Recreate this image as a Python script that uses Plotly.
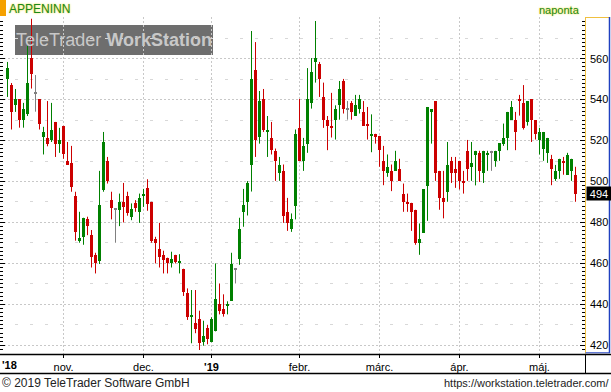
import plotly.graph_objects as go

# ---------------- data ----------------
opens = [550.2, 547.0, 537.6, 540.2, 530.2, 533.2, 560.3, 543.1, 540.2, 521.5,
         521.3, 520.2, 529.1, 518.5, 527.2, 510.1, 509.1, 493.0, 471.1, 473.0,
         481.8, 474.0, 464.2, 461.3, 495.8, 510.1, 491.1, 486.8, 486.3, 490.1,
         493.0, 482.8, 489.6, 485.2, 493.0, 496.9, 490.1, 472.0, 466.8, 464.2,
         462.8, 460.0, 464.2, 460.5, 457.4, 445.7, 434.3, 431.1, 433.0, 421.5,
         428.5, 421.5, 426.8, 440.2, 437.9, 439.5, 441.8, 457.6, 462.3, 485.2,
         490.1, 508.3, 554.5, 521.5, 540.3, 524.2, 521.3, 515.0, 504.2, 505.2,
         485.2, 477.0, 488.1, 526.2, 510.1, 518.5, 538.4, 558.4, 557.4, 541.3,
         530.2, 527.2, 530.2, 537.6, 549.1, 535.4, 538.4, 532.2, 535.4, 534.0,
         528.1, 522.4, 523.3, 522.3, 510.1, 504.2, 505.2, 505.2, 506.2, 494.1,
         490.1, 489.6, 486.2, 470.1, 475.0, 497.9, 534.1, 539.3, 505.2, 492.0,
         495.0, 510.1, 506.2, 510.1, 500.3, 515.0, 507.2, 513.0, 514.0, 504.2,
         513.0, 514.6, 510.1, 515.0, 518.5, 521.3, 530.2, 529.9, 540.3, 538.4,
         529.3, 540.3, 529.9, 520.5, 516.1, 514.0, 511.1, 501.3, 505.2, 510.1,
         503.3, 505.2, 503.3]
highs = [558.4, 548.1, 545.2, 540.2, 538.4, 566.2, 579.5, 552.0, 540.2, 526.7,
         539.3, 538.4, 529.1, 526.2, 527.2, 519.3, 517.4, 495.0, 485.2, 482.3,
         482.8, 476.3, 465.2, 505.2, 524.2, 512.0, 495.0, 486.8, 494.1, 499.3,
         495.0, 489.3, 490.9, 494.1, 496.4, 501.1, 490.1, 473.0, 479.8, 466.2,
         462.8, 465.7, 464.2, 464.5, 457.4, 447.8, 447.0, 447.0, 436.9, 432.0,
         430.0, 433.7, 460.0, 450.2, 444.9, 441.5, 465.2, 457.6, 482.3, 496.4,
         500.2, 573.5, 568.1, 544.2, 545.2, 532.0, 529.1, 516.1, 512.0, 508.3,
         492.0, 484.4, 525.4, 540.3, 521.3, 555.4, 560.3, 578.4, 558.4, 548.3,
         532.0, 543.3, 537.2, 549.1, 550.1, 539.3, 539.3, 542.3, 542.3, 539.3,
         536.4, 532.8, 523.3, 522.3, 517.4, 513.2, 508.3, 515.0, 511.1, 499.0,
         494.1, 489.6, 486.2, 479.5, 496.1, 536.4, 535.4, 539.3, 505.2, 505.2,
         519.3, 512.0, 512.0, 510.1, 505.2, 520.3, 519.3, 515.0, 515.0, 515.0,
         515.0, 515.0, 515.0, 518.7, 528.3, 534.0, 539.3, 534.0, 542.3, 547.1,
         539.3, 540.3, 529.9, 526.2, 524.2, 521.3, 513.0, 508.1, 511.1, 512.0,
         514.0, 511.1, 507.2]
lows = [541.3, 525.4, 534.0, 526.3, 526.3, 532.0, 545.4, 534.1, 525.4, 513.2,
        517.2, 519.3, 512.0, 514.0, 511.1, 508.3, 495.0, 471.1, 470.1, 469.1,
        473.8, 458.0, 455.1, 459.7, 495.0, 499.0, 481.5, 470.1, 478.2, 480.0,
        483.3, 481.1, 485.2, 479.8, 487.6, 485.7, 470.1, 460.0, 458.0, 455.1,
        455.1, 458.0, 460.0, 455.1, 444.1, 432.4, 421.0, 425.9, 417.7, 419.8,
        420.5, 421.5, 426.8, 435.1, 434.0, 435.1, 441.8, 450.2, 459.3, 477.9,
        483.4, 495.1, 512.0, 518.5, 524.2, 512.0, 513.2, 500.3, 500.3, 479.8,
        475.9, 475.4, 481.5, 510.1, 505.2, 514.0, 535.6, 548.3, 541.3, 526.2,
        515.3, 521.5, 520.5, 530.2, 533.2, 530.2, 530.2, 532.2, 533.2, 527.3,
        520.5, 514.3, 518.5, 507.2, 498.2, 502.3, 495.3, 505.2, 500.3, 485.2,
        485.2, 475.9, 469.1, 464.2, 475.0, 480.8, 518.5, 500.3, 486.2, 482.0,
        490.1, 499.3, 496.9, 496.1, 494.1, 500.3, 500.3, 498.1, 499.8, 499.3,
        505.2, 505.2, 507.2, 510.1, 517.4, 515.3, 530.2, 515.3, 532.2, 525.4,
        527.3, 519.3, 520.5, 513.2, 510.1, 509.1, 498.2, 500.3, 501.3, 503.3,
        503.3, 500.3, 490.1]
closes = [555.4, 534.0, 540.2, 530.2, 535.3, 548.1, 552.4, 543.1, 528.3, 524.2,
          518.5, 525.0, 518.5, 520.3, 513.2, 508.3, 497.4, 475.1, 472.2, 482.3,
          478.2, 463.3, 460.0, 488.5, 519.3, 500.3, 487.2, 486.8, 490.1, 487.6,
          484.4, 486.7, 487.3, 492.0, 494.1, 488.8, 471.1, 470.1, 462.9, 461.6,
          460.0, 462.0, 460.8, 461.3, 446.2, 434.0, 435.0, 428.1, 421.0, 424.6,
          422.9, 432.7, 442.8, 436.9, 435.1, 440.2, 459.8, 457.6, 476.9, 488.5,
          499.4, 550.1, 520.5, 539.3, 525.0, 525.0, 515.3, 510.1, 508.3, 483.3,
          479.5, 481.5, 523.4, 510.1, 517.4, 540.3, 553.5, 560.3, 550.2, 530.2,
          527.2, 526.3, 535.4, 545.2, 535.4, 535.4, 534.1, 537.4, 540.3, 527.3,
          527.3, 523.3, 521.5, 515.3, 505.2, 507.2, 500.3, 510.1, 500.3, 490.1,
          488.8, 485.2, 470.1, 472.0, 496.1, 536.4, 535.4, 504.2, 492.0, 490.1,
          508.1, 504.2, 504.2, 500.3, 499.8, 506.2, 509.1, 515.0, 505.2, 515.0,
          514.0, 514.6, 515.0, 518.7, 521.3, 534.0, 536.4, 524.2, 539.3, 526.3,
          539.3, 530.2, 523.4, 524.2, 524.2, 521.3, 506.2, 505.2, 511.1, 509.1,
          513.0, 511.1, 494.1]

month_idx = [14, 34, 51, 73, 93, 113, 133]
month_labels = ["nov.", "dec.", "<b>'19</b>", "febr.", "márc.", "ápr.", "máj."]
price_ticks = [420, 440, 460, 480, 500, 520, 540, 560]
year_start_label = "<b>'18</b>"
ticker = "APPENINN"
period = "naponta"

GREEN = "#008000"
RED = "#cc0000"
GRAY = "#808080"
FONT = "Liberation Sans, Arial, sans-serif"

n = len(closes)
idx = list(range(n))

def col(o, c):
    if c > o:
        return GREEN
    if c < o:
        return RED
    return GRAY

colors = [col(o, c) for o, c in zip(opens, closes)]

fig = go.Figure()

# invisible trace to anchor second y axis (for half-step dashed grid)
fig.add_trace(go.Scatter(x=[0], y=[500], yaxis="y2", mode="markers",
                         marker=dict(opacity=0), hoverinfo="skip", showlegend=False))

# wicks
for c in (GREEN, RED, GRAY):
    xs, ys = [], []
    for i in idx:
        if colors[i] == c:
            xs += [i, i, None]
            ys += [lows[i], highs[i], None]
    fig.add_trace(go.Scatter(x=xs, y=ys, mode="lines", line=dict(color=c, width=1),
                             hoverinfo="skip", showlegend=False))

# bodies
MINH = 0.7
bh, bb = [], []
for o, c in zip(opens, closes):
    h = max(abs(c - o), MINH)
    mid = (o + c) / 2
    bh.append(h)
    bb.append(mid - h / 2)
fig.add_trace(go.Bar(x=idx, y=bh, base=bb, width=0.75, marker=dict(color=colors, line=dict(width=0)),
                     showlegend=False, hoverinfo="skip"))

W, H = 611, 392
L, R, T, B = 0, 26, 17, 38
pw, ph = W - L - R, H - T - B

def px_x(p):
    return (p - L) / pw

def px_y(p):
    return 1 - (p - T) / ph

yr = [415.75, 580.35]
shapes = []
# watermark box
shapes.append(dict(type="rect", xref="paper", yref="paper", x0=px_x(15), x1=px_x(213),
                   y0=px_y(55), y1=px_y(25), fillcolor="#6e6e6e", line=dict(width=0), layer="between"))
# orange bar
shapes.append(dict(type="rect", xref="paper", yref="paper", x0=0, x1=px_x(6),
                   y0=px_y(16), y1=px_y(0), fillcolor="#f5a000", line=dict(width=0)))
# right panel frame
shapes.append(dict(type="line", xref="paper", yref="paper", x0=px_x(585.5), x1=px_x(585.5),
                   y0=px_y(353.5), y1=px_y(17), line=dict(color="#f0c040", width=1)))
shapes.append(dict(type="line", xref="paper", yref="paper", x0=px_x(585.5), x1=px_x(610),
                   y0=px_y(17.5), y1=px_y(17.5), line=dict(color="#f0c040", width=1)))
shapes.append(dict(type="line", xref="paper", yref="paper", x0=px_x(609.5), x1=px_x(609.5),
                   y0=px_y(353), y1=px_y(17), line=dict(color="#2040c0", width=1.5)))
shapes.append(dict(type="line", xref="paper", yref="paper", x0=px_x(585.5), x1=px_x(610),
                   y0=px_y(352.8), y1=px_y(352.8), line=dict(color="#2040c0", width=1)))
# label band lines
shapes.append(dict(type="line", xref="paper", yref="paper", x0=0, x1=px_x(611),
                   y0=px_y(354.5), y1=px_y(354.5), line=dict(color="black", width=1.5)))
shapes.append(dict(type="line", xref="paper", yref="paper", x0=0, x1=px_x(611),
                   y0=px_y(373.5), y1=px_y(373.5), line=dict(color="black", width=1.5)))
shapes.append(dict(type="line", xref="paper", yref="paper", x0=px_x(585.5), x1=px_x(585.5),
                   y0=px_y(373.5), y1=px_y(354.5), line=dict(color="black", width=1)))

annotations = [
    dict(text="TeleTrader <b>WorkStation</b>", xref="paper", yref="paper", x=px_x(114), y=px_y(40),
         showarrow=False, font=dict(family=FONT, size=18, color="#c8c8c8"),
         xanchor="center", yanchor="middle"),
    dict(text=ticker, xref="paper", yref="paper", x=px_x(7), y=px_y(9), showarrow=False,
         xanchor="left", yanchor="middle",
         font=dict(family=FONT, size=12, color="#1a8a1a", shadow="0px 0px 2px #f0d000")),
    dict(text=period, xref="paper", yref="paper", x=px_x(582), y=px_y(10), showarrow=False,
         xanchor="right", yanchor="middle",
         font=dict(family=FONT, size=11, color="#1a8a1a", shadow="0px 0px 2px #f0d000")),
    dict(text=year_start_label, xref="paper", yref="paper", x=px_x(0), y=px_y(365), showarrow=False,
         xanchor="left", yanchor="middle", font=dict(family=FONT, size=11, color="black")),
    dict(text="© 2019 TeleTrader Software GmbH", xref="paper", yref="paper", x=px_x(0), y=px_y(383),
         showarrow=False, xanchor="left", yanchor="middle", font=dict(family=FONT, size=12, color="#222222")),
    dict(text="https://workstation.teletrader.com/", xref="paper", yref="paper", x=px_x(611), y=px_y(383),
         showarrow=False, xanchor="right", yanchor="middle", font=dict(family=FONT, size=11, color="#222222")),
    dict(text=f"{closes[-1]:.0f}", xref="paper", yref="y", x=px_x(586), y=closes[-1], showarrow=False,
         xanchor="left", yanchor="middle", bgcolor="black", borderpad=0, width=24, height=13,
         font=dict(family=FONT, size=11, color="white")),
]

fig.update_layout(
    width=W, height=H, autosize=False,
    margin=dict(l=L, r=R, t=T, b=B, pad=0),
    paper_bgcolor="white", plot_bgcolor="white",
    showlegend=False, bargap=0,
    xaxis=dict(range=[-1.875, 144.375], tickmode="array", tickvals=month_idx, ticktext=month_labels,
               showgrid=True, gridcolor="#c8c8c8", griddash="2px,2px", gridwidth=1,
               ticks="outside", ticklen=3, tickcolor="black", showline=False, zeroline=False,
               tickfont=dict(family=FONT, size=11, color="black"), fixedrange=True),
    yaxis=dict(range=yr, side="right", tickmode="array", tickvals=price_ticks,
               showgrid=True, gridcolor="#c8c8c8",
               griddash="2px,2px", gridwidth=1, ticks="inside", ticklen=5, tickcolor="black",
               mirror="ticks", zeroline=False, showline=False,
               minor=dict(dtick=2, tick0=0, ticks="inside", ticklen=3, tickcolor="black", showgrid=False),
               tickfont=dict(family=FONT, size=11, color="black"), ticklabelstandoff=4),
    yaxis2=dict(range=yr, overlaying="y", side="right", dtick=20, tick0=10, showgrid=True,
                gridcolor="#d8d8d8", griddash="3px,12px", gridwidth=1, showticklabels=False,
                ticks="", zeroline=False, showline=False),
    shapes=shapes, annotations=annotations,
)

fig.write_html("out.html", config={"displayModeBar": False})
